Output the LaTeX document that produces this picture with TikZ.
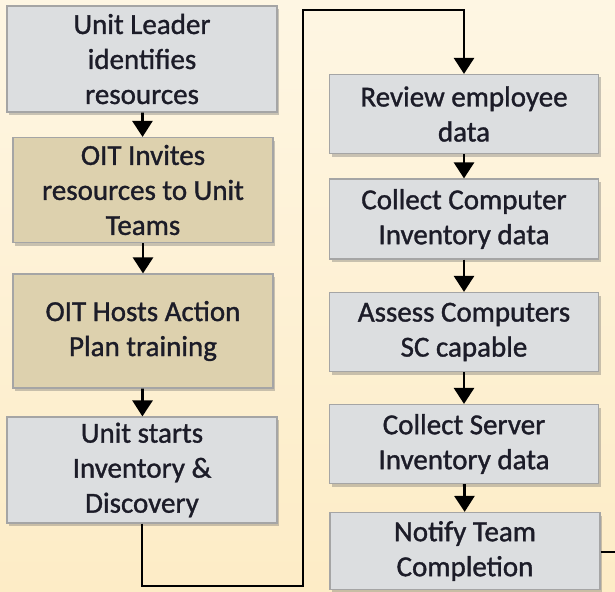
\documentclass[tikz,border=0pt]{standalone}
\usepackage{fontspec}
\setmainfont{Carlito}
\newfontfamily\boxfont{Carlito}[FakeBold=1.2]
\usetikzlibrary{arrows.meta,shadows}
\definecolor{bgtop}{HTML}{FEF6E3}
\definecolor{bgbot}{HTML}{FDECC6}
\definecolor{boxgray}{HTML}{DCDEE0}
\definecolor{boxtan}{HTML}{DDD1AE}
\definecolor{edgegray}{HTML}{A5A5A5}
\definecolor{txt}{HTML}{1C1C28}
\tikzset{
  stepbox/.style={draw=edgegray, line width=1.2pt, fill=boxgray, align=center,
    text=txt, font=\boxfont\fontsize{29}{35}\selectfont, inner sep=0pt,
    drop shadow={shadow xshift=2pt, shadow yshift=-3pt, opacity=0.35, fill=black!60}},
  tanbox/.style={stepbox, fill=boxtan},
  arr/.style={line width=2.8pt, -{Triangle[length=16pt,width=20pt]}},
  plain/.style={line width=2.8pt}
}
\begin{document}
\begin{tikzpicture}[x=1pt,y=-1pt]
\useasboundingbox (0,0) rectangle (615,591);
\shade[top color=bgtop, bottom color=bgbot] (0,0) rectangle (615,591);
\node[stepbox, minimum width=270pt, minimum height=106pt] (b1) at (142,59) {Unit Leader\\identifies\\resources};
\node[tanbox, minimum width=260pt, minimum height=105pt] (b2) at (143,190) {OIT Invites\\resources to Unit\\Teams};
\node[tanbox, minimum width=260pt, minimum height=114pt] (b3) at (143,331) {OIT Hosts Action\\Plan training};
\node[stepbox, minimum width=270pt, minimum height=106pt] (b4) at (142,470) {Unit starts\\Inventory \&\\Discovery};
\node[stepbox, minimum width=269pt, minimum height=79pt] (r1) at (464,114) {Review employee\\data};
\node[stepbox, minimum width=269pt, minimum height=80pt] (r2) at (464,219) {Collect Computer\\Inventory data};
\node[stepbox, minimum width=269pt, minimum height=79pt] (r3) at (464,332) {Assess Computers\\SC capable};
\node[stepbox, minimum width=269pt, minimum height=79pt] (r4) at (464,444) {Collect Server\\Inventory data};
\node[stepbox, minimum width=270pt, minimum height=77pt] (r5) at (465,551) {Notify Team\\Completion};
\coordinate (c1) at (303,586);
\coordinate (c2) at (303,10);
\coordinate (c3) at (615,552);
\draw[arr] (b1) -- (b2);
\draw[arr] (b2) -- (b3);
\draw[arr] (b3) -- (b4);
\draw[arr] (b4.south) |- (c1) -- (c2) -| (r1.north);
\draw[arr] (r1) -- (r2);
\draw[arr] (r2) -- (r3);
\draw[arr] (r3) -- (r4);
\draw[arr] (r4) -- (r5);
\draw[plain] (r5.east |- c3) -- (c3);
\end{tikzpicture}
\end{document}
